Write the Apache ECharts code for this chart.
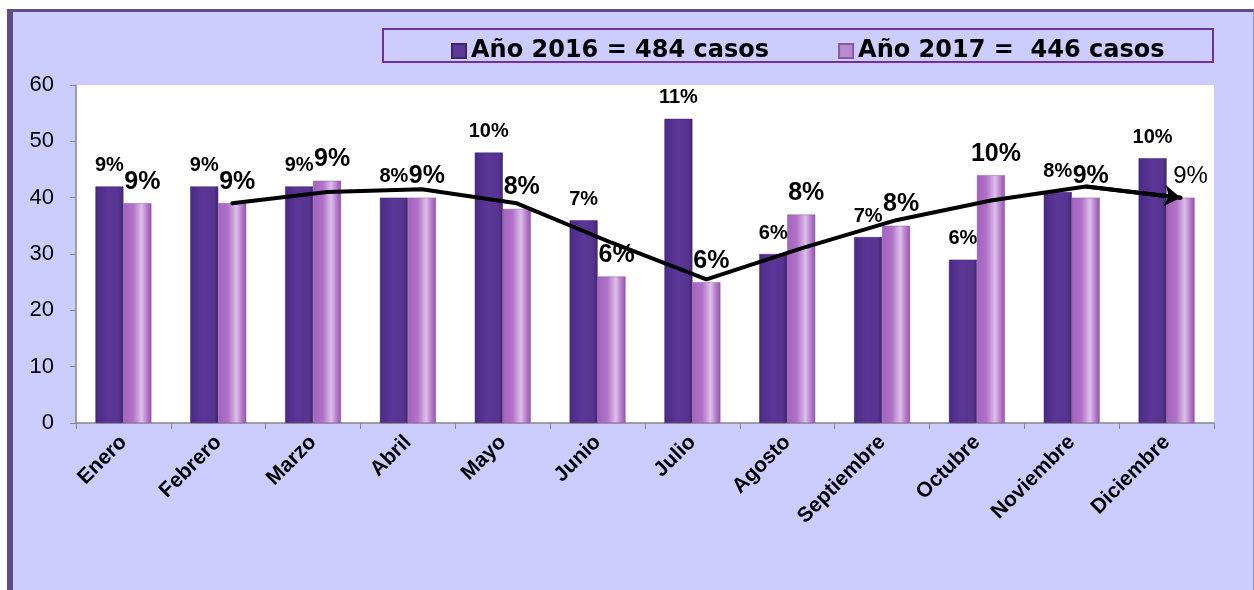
<!DOCTYPE html>
<html>
<head>
<meta charset="utf-8">
<script src="https://cdn.jsdelivr.net/npm/echarts@6/dist/echarts.min.js"></script>
<style>
  html, body { margin: 0; padding: 0; background: #ffffff; }
  #frame { position: absolute; left: 7px; top: 9px; width: 1247px; height: 581px;
           box-sizing: border-box; background: #CCCCFF;
           border-left: 6px solid #5F4B8B; border-top: 3px solid #5F4B8B; border-right: 1px solid #9C92C4; }
  #chart { position: absolute; left: 0; top: 0; width: 1254px; height: 590px; }
</style>
</head>
<body>
<div id="frame"></div>
<div id="chart"></div>
<script>
// ---- data ----
const categories = ['Enero','Febrero','Marzo','Abril','Mayo','Junio','Julio','Agosto','Septiembre','Octubre','Noviembre','Diciembre'];
const seriesNames = ['Año 2016 = 484 casos', 'Año 2017 =  446 casos'];
const casos2016 = [42, 42, 42, 40, 48, 36, 54, 30, 33, 29, 41, 47];
const casos2017 = [39, 39, 43, 40, 38, 26, 25, 37, 35, 44, 40, 40];
const pct2016 = ['9%','9%','9%','8%','10%','7%','11%','6%','7%','6%','8%','10%'];
const pct2017 = ['9%','9%','9%','9%','8%','6%','6%','8%','8%','10%','9%','9%'];
// trend line (drawn over the 2017 bars)
const tendencia2017 = [null, 39, 41, 41.5, 39, 32, 25.5, 31, 36, 39.5, 42, 40];
const yMin = 0, yMax = 60, yStep = 10;

// ---- styling helpers ----
const FONT = '"Liberation Sans", Arial, sans-serif';
const LIGHT_SHIFT = 0.148; // centre of the 2017 bar within its category (category units)
const PLAIN_LABEL_INDEX = 11; // the last 2017 label is not bold in the original

const darkGrad = new echarts.graphic.LinearGradient(0, 0, 1, 0, [
  { offset: 0, color: '#4A2A84' },
  { offset: 0.45, color: '#5B3697' },
  { offset: 0.85, color: '#56348F' },
  { offset: 1, color: '#3F2470' }
]);
const lightGrad = new echarts.graphic.LinearGradient(0, 0, 1, 0, [
  { offset: 0, color: '#A462BE' },
  { offset: 0.35, color: '#B072C8' },
  { offset: 0.65, color: '#DCC0E8' },
  { offset: 0.85, color: '#B678CB' },
  { offset: 1, color: '#8E56A6' }
]);

const trendPts = [];
tendencia2017.forEach((v, i) => { if (v !== null) trendPts.push([i + LIGHT_SHIFT, v]); });

const data2017 = casos2017.map((v, i) => i === PLAIN_LABEL_INDEX
  ? { value: v, label: { fontWeight: 'normal', fontSize: 24, offset: [10, 0] } }
  : v);

const chart = echarts.init(document.getElementById('chart'), null, { renderer: 'canvas' });
chart.setOption({
  animation: false,
  backgroundColor: 'transparent',
  textStyle: { fontFamily: FONT },
  graphic: [{
    type: 'rect', z: 0,
    shape: { x: 383, y: 29, width: 830, height: 33 },
    style: { fill: 'transparent', stroke: '#7030A0', lineWidth: 2 }
  }],
  legend: {
    left: 446, top: 34,
    itemWidth: 14, itemHeight: 14, itemGap: 69,
    icon: 'rect',
    textStyle: { fontFamily: '"DejaVu Sans", sans-serif', fontWeight: 'bold', fontSize: 24, color: '#000' },
    data: [
      { name: seriesNames[0], itemStyle: { color: '#5C3A98' } },
      { name: seriesNames[1], itemStyle: { color: '#B98AD0' } }
    ]
  },
  grid: { left: 76, right: 40, top: 85, bottom: 167, show: true, backgroundColor: '#ffffff', borderWidth: 0 },
  xAxis: [{
    type: 'category', data: categories,
    axisLine: { onZero: false, lineStyle: { color: '#888888', width: 1.5 } },
    axisTick: { show: true, length: 6, lineStyle: { color: '#888888' } },
    axisLabel: { rotate: 45, fontSize: 21, fontWeight: 'bold', color: '#000', fontFamily: FONT, margin: 16, interval: 0 }
  }, {
    type: 'value', min: -0.5, max: 11.5, show: false
  }],
  yAxis: {
    type: 'value', min: yMin, max: yMax, interval: yStep,
    axisLine: { show: true, onZero: false, lineStyle: { color: '#888888', width: 1.5 } },
    axisTick: { show: true, length: 6, lineStyle: { color: '#888888' } },
    splitLine: { show: false },
    axisLabel: { fontSize: 22, color: '#000', fontFamily: FONT, margin: 22 }
  },
  series: [{
    name: seriesNames[0], type: 'bar', data: casos2016,
    barGap: 0, barCategoryGap: '41%',
    itemStyle: { color: darkGrad, borderColor: '#3E2468', borderWidth: 0.5 },
    label: { show: true, position: 'top', distance: 11, fontSize: 20, fontWeight: 'bold', color: '#000', fontFamily: FONT,
             formatter: p => pct2016[p.dataIndex] }
  }, {
    name: seriesNames[1], type: 'bar', data: data2017,
    itemStyle: { color: lightGrad, borderColor: '#8A5AA0', borderWidth: 0.5 },
    label: { show: true, position: 'top', distance: 9, offset: [5, 0], fontSize: 25, fontWeight: 'bold', color: '#000', fontFamily: FONT,
             formatter: p => pct2017[p.dataIndex] }
  }, {
    name: 'tendencia', type: 'line', xAxisIndex: 1, data: trendPts,
    symbol: 'none', z: 5,
    lineStyle: { color: '#000', width: 4, join: 'round', cap: 'round' }
  }, {
    name: 'flecha', type: 'lines', coordinateSystem: 'cartesian2d', xAxisIndex: 1, z: 6,
    symbol: ['none', 'arrow'], symbolSize: [0, 16],
    lineStyle: { color: '#000', width: 4, opacity: 1 },
    data: [{ coords: trendPts.slice(-2) }]
  }]
});
</script>
</body>
</html>
